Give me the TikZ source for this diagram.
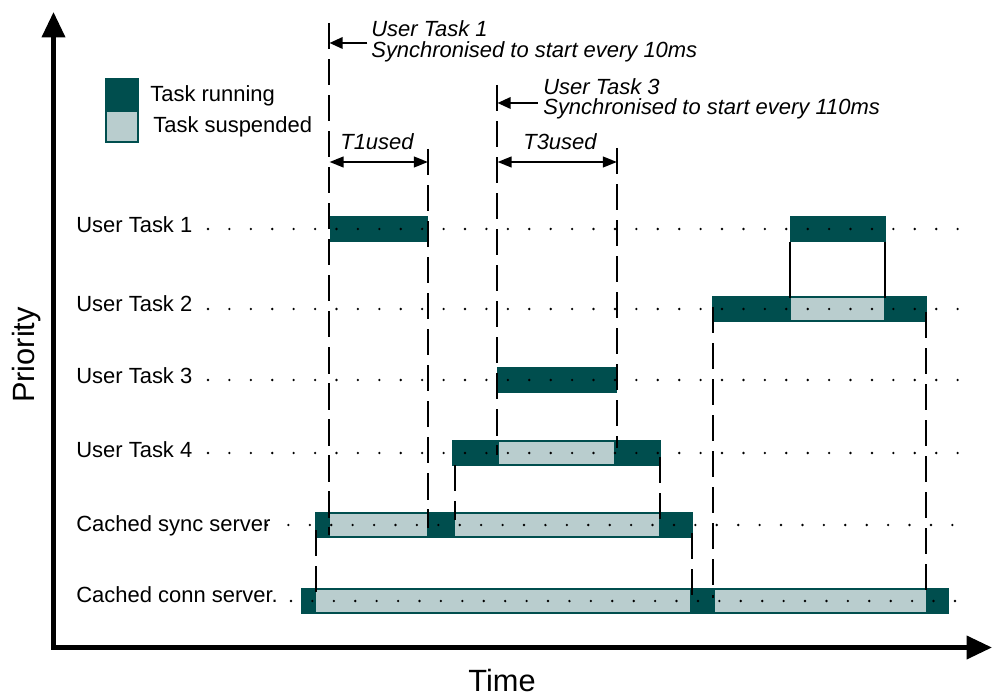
\documentclass[tikz,border=0pt]{standalone}
\usepackage{fontspec}
\setmainfont{Liberation Sans}
\usetikzlibrary{arrows.meta, positioning}
\definecolor{taskdark}{HTML}{004E4E}
\definecolor{tasklight}{HTML}{B9CDCE}

\begin{document}
\begin{tikzpicture}[
        x=0.02cm, y=-0.02cm,
        rowlabel/.style={anchor=base west, inner sep=0pt, font=\fontsize{12.5}{14}\selectfont},
        note/.style={anchor=base west, inner sep=0pt, font=\fontsize{12.5}{14}\selectfont\itshape},
        axislabel/.style={font=\fontsize{17.5}{20}\selectfont},
        axisline/.style={line width=2.6pt, line join=miter,
                         {Triangle[length=14.5pt, width=13pt]}-{Triangle[length=14.5pt, width=13pt]}},
        griddots/.style={line width=1.5pt, line cap=round, dash pattern=on 0pt off 12.19pt},
        markline/.style={line width=1.3pt, dash pattern=on 15pt off 5.5pt},
        tickline/.style={line width=1.3pt},
        pointer/.style={line width=1.3pt, -{Triangle[length=7.5pt, width=6.5pt]}},
        span/.style={line width=1.3pt, {Triangle[length=8pt, width=6pt]}-{Triangle[length=8pt, width=6pt]}},
        run/.style={fill=taskdark},
        susp/.style={fill=tasklight}
      ]
        \useasboundingbox (0,0) rectangle (993,695);

        % axes
        \coordinate (ytop) at (53.5,12);
        \coordinate (origin) at (53.5,647.5);
        \coordinate (xend) at (992,647.5);
        \draw[axisline] (ytop) -- (origin) -- (xend);
        \node[axislabel, rotate=90] (prio) at (27,355) {Priority};
        \node[axislabel, anchor=base] (time) at (502,691) {Time};

        % legend
        \fill[run] (105,78) rectangle (139,110);
        \filldraw[susp, draw=taskdark, line width=1.2pt] (105.6,110.6) rectangle (138.4,142.4);
        \node[rowlabel] (legrun) at (150,101.5) {Task running};
        \node[rowlabel] (legsusp) at (153,133) {Task suspended};

        % task bars
        \foreach \a/\b/\y in {330/428/229, 790/886/229, 712/927/309, 497/617/380,
                              452/661/453, 315/693/525, 301/949/601}
          \fill[run] (\a,\y-13) rectangle (\b,\y+13);
        \foreach \a/\b/\y in {791/884/309, 499/614/453, 330/427/525, 455/659/525,
                              316/690/601, 715/926/601}
          \fill[susp] (\a,\y-11) rectangle (\b,\y+11);

        % rows
        \foreach \name/\lab/\y/\off/\dx in {ut1/User Task 1/229/4/208, ut2/User Task 2/309/3/208,
                                            ut3/User Task 3/380/4/208, ut4/User Task 4/453/4/208,
                                            sync/Cached sync server/525/6/267,
                                            conn/Cached conn server./601/1/291} {
          \node[rowlabel] (lab-\name) at (76,\y+\off) {\lab};
          \draw[griddots] (\dx,\y) -- (962,\y);
        }

        % time markers
        \foreach \x/\ya/\yb in {329/23/535, 428/149/528, 497/85/455, 617/148/448,
                                455/465/520, 660/457/520, 316/530/598, 692/533/605,
                                713/307/598, 926/312/592}
          \draw[markline] (\x,\ya) -- (\x,\yb);
        \foreach \x in {790, 885}
          \draw[tickline] (\x,242) -- (\x,298);

        % notes
        \node[note] (note1a) at (371,37) {User Task 1};
        \node[note] (note1b) at (371,58) {Synchronised to start every 10ms};
        \node[note] (note3a) at (543,95) {User Task 3};
        \node[note] (note3b) at (543,115) {Synchronised to start every 110ms};
        \node[note] (t1lab) at (340,150) {T1used};
        \node[note] (t3lab) at (523,150) {T3used};

        \coordinate (sync1) at (329.5,43);
        \coordinate (sync3) at (497.5,103);
        \draw[pointer] ([xshift=-2pt]note1a.base west |- sync1) -- (sync1);
        \draw[pointer] ([xshift=-3pt]note3a.base west |- sync3) -- (sync3);

        \coordinate (t1a) at (329.5,162);
        \coordinate (t1b) at (428,162);
        \coordinate (t3a) at (497.5,162);
        \coordinate (t3b) at (617,162);
        \draw[span] (t1a) -- (t1b);
        \draw[span] (t3a) -- (t3b);
      \end{tikzpicture}
\end{document}
